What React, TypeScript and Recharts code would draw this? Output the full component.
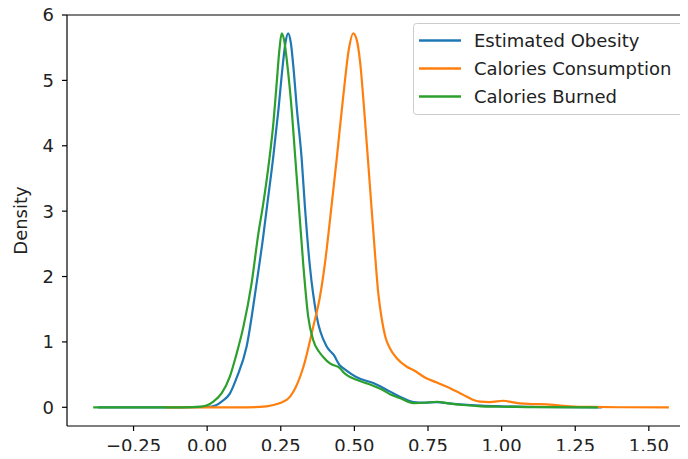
import React from "react";
import {
  LineChart,
  Line,
  XAxis,
  YAxis,
  Legend,
  ReferenceLine,
} from "recharts";

// KDE curves (x = normalised value, y = density)
const obesityX = [-0.37, -0.1, 0.0, 0.03, 0.05, 0.077, 0.1, 0.134, 0.168, 0.19, 0.204, 0.225, 0.242, 0.256, 0.266, 0.275, 0.284, 0.294, 0.304, 0.321, 0.332, 0.349, 0.372, 0.406, 0.43, 0.451, 0.462, 0.508, 0.564, 0.621, 0.66, 0.7, 0.74, 0.78, 0.82, 0.87, 0.93, 1.0, 1.1, 1.2, 1.34];
const obesityY = [0, 0, 0.005, 0.03, 0.09, 0.21, 0.45, 0.93, 1.9, 2.6, 3.1, 3.85, 4.55, 5.2, 5.58, 5.72, 5.58, 5.15, 4.6, 3.8, 3.07, 2.15, 1.39, 0.93, 0.8, 0.64, 0.6, 0.46, 0.37, 0.24, 0.15, 0.08, 0.07, 0.08, 0.06, 0.04, 0.025, 0.015, 0.005, 0.001, 0];

const consumptionX = [-0.143, 0.1, 0.18, 0.225, 0.25, 0.281, 0.3, 0.327, 0.36, 0.383, 0.4, 0.417, 0.44, 0.462, 0.482, 0.496, 0.508, 0.519, 0.536, 0.553, 0.57, 0.581, 0.593, 0.605, 0.621, 0.644, 0.678, 0.7, 0.746, 0.78, 0.8, 0.83, 0.87, 0.9, 0.927, 0.96, 1.006, 1.035, 1.062, 1.1, 1.153, 1.19, 1.22, 1.3, 1.4, 1.568];
const consumptionY = [0, 0, 0.005, 0.035, 0.07, 0.16, 0.3, 0.62, 1.23, 1.69, 2.2, 2.86, 3.8, 4.75, 5.5, 5.72, 5.62, 5.3, 4.39, 3.37, 2.35, 1.75, 1.35, 1.08, 0.9, 0.75, 0.62, 0.57, 0.44, 0.38, 0.34, 0.28, 0.19, 0.12, 0.086, 0.08, 0.1, 0.08, 0.06, 0.05, 0.045, 0.03, 0.02, 0.005, 0.001, 0];

const burnedX = [-0.387, -0.2, -0.1, -0.05, -0.02, 0.0, 0.021, 0.05, 0.077, 0.1, 0.123, 0.151, 0.174, 0.19, 0.21, 0.225, 0.236, 0.245, 0.253, 0.262, 0.272, 0.288, 0.298, 0.31, 0.327, 0.343, 0.36, 0.38, 0.394, 0.417, 0.451, 0.462, 0.508, 0.54, 0.564, 0.59, 0.621, 0.66, 0.7, 0.74, 0.78, 0.82, 0.87, 0.93, 0.98, 1.05, 1.15, 1.327];
const burnedY = [0, 0, 0, 0.002, 0.01, 0.03, 0.086, 0.22, 0.47, 0.82, 1.23, 1.9, 2.66, 3.1, 3.75, 4.35, 4.95, 5.45, 5.72, 5.6, 5.25, 4.5, 3.89, 3.17, 2.15, 1.39, 1.03, 0.85, 0.77, 0.67, 0.6, 0.54, 0.42, 0.37, 0.33, 0.28, 0.2, 0.13, 0.065, 0.07, 0.085, 0.06, 0.035, 0.015, 0.01, 0.005, 0.002, 0];

const seriesNames = ["Estimated Obesity", "Calories Consumption", "Calories Burned"];
const xTicks = [-0.25, 0, 0.25, 0.5, 0.75, 1.0, 1.25, 1.5];
const yTicks = [0, 1, 2, 3, 4, 5, 6];

const COLORS = ["#1f77b4", "#ff7f0e", "#2ca02c"];
const FONT = "DejaVu Sans";
const FS = 18;

const zip = (xs: number[], ys: number[]) => xs.map((x, i) => ({ x, y: ys[i] }));
const series = [
  zip(obesityX, obesityY),
  zip(consumptionX, consumptionY),
  zip(burnedX, burnedY),
];

const fmtX = (v: number) => (v < 0 ? "\u2212" + Math.abs(v).toFixed(2) : v.toFixed(2));

function LegendBox() {
  return (
    <svg width={275} height={93} style={{ display: "block" }}>
      <rect x={0.5} y={0.5} width={273} height={91} rx={3} fill="#fff" fillOpacity={0.8} stroke="#cccccc" />
      {seriesNames.map((name, i) => {
        const cy = 17.5 + i * 28;
        return (
          <g key={name}>
            <line x1={6} x2={48} y1={cy} y2={cy} stroke={COLORS[i]} strokeWidth={2.4} />
            <text x={61} y={cy} dy="0.35em" fontFamily={FONT} fontSize={FS} fill="#222">
              {name}
            </text>
          </g>
        );
      })}
    </svg>
  );
}

export default function App() {
  return (
    <div style={{ margin: -8, width: 688, height: 459, position: "relative", background: "#fff" }}>
      <LineChart width={688} height={459} margin={{ top: 15, right: 0, bottom: 0, left: 0 }}>
        <XAxis
          type="number"
          dataKey="x"
          domain={[-0.476, 1.633]}
          allowDataOverflow
          ticks={xTicks}
          tickFormatter={fmtX}
          height={33}
          tickSize={5}
          tickMargin={8}
          axisLine={{ stroke: "#000", strokeWidth: 1.2 }}
          tickLine={{ stroke: "#000", strokeWidth: 1.2 }}
          tick={{ fill: "#222", fontSize: FS, fontFamily: FONT }}
        />
        <YAxis
          type="number"
          domain={[-0.286, 6]}
          allowDataOverflow
          ticks={yTicks}
          width={67}
          tickSize={5}
          tickMargin={8}
          axisLine={{ stroke: "#000", strokeWidth: 1.2 }}
          tickLine={{ stroke: "#000", strokeWidth: 1.2 }}
          tick={{ fill: "#222", fontSize: FS, fontFamily: FONT }}
          label={{
            value: "Density",
            angle: -90,
            position: "insideLeft",
            offset: 21,
            style: { fill: "#222", fontSize: FS, fontFamily: FONT, textAnchor: "middle" },
          }}
        />
        <ReferenceLine y={6} stroke="#000" strokeWidth={1.2} />
        {series.map((d, i) => (
          <Line
            key={seriesNames[i]}
            data={d}
            dataKey="y"
            name={seriesNames[i]}
            type="monotone"
            stroke={COLORS[i]}
            strokeWidth={2.2}
            dot={false}
            activeDot={false}
            isAnimationActive={false}
          />
        ))}
        <Legend
          layout="vertical"
          align="center"
          verticalAlign="middle"
          content={() => <LegendBox />}
          wrapperStyle={{ position: "absolute", left: 413, top: 23, width: 275, height: 93 }}
        />
      </LineChart>
    </div>
  );
}
